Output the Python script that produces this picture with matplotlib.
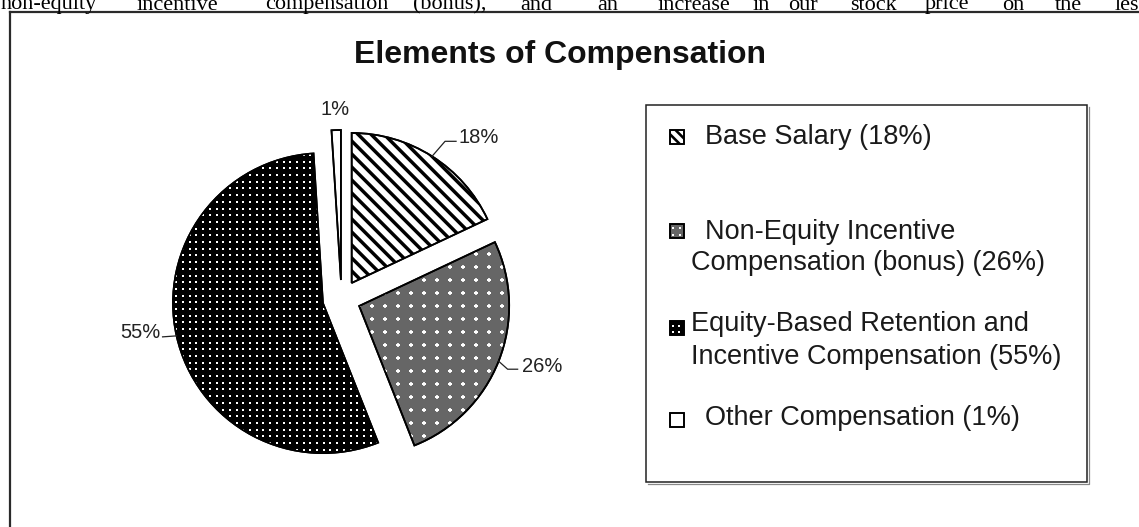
import numpy as np
import matplotlib.pyplot as plt
from matplotlib.patches import Rectangle, Wedge

# Page-scan recreation of the "Elements of Compensation" pie chart

W, H = 1139, 527

# --- data ---
categories = ["Base Salary", "Non-Equity Incentive Compensation (bonus)",
              "Equity-Based Retention and Incentive Compensation", "Other Compensation"]
shares = [18, 26, 55, 1]
pct_labels = ["18%", "26%", "55%", "1%"]
legend_lines = [["Base Salary (18%)"],
                ["Non-Equity Incentive", "Compensation (bonus) (26%)"],
                ["Equity-Based Retention and", "Incentive Compensation (55%)"],
                ["Other Compensation (1%)"]]
TITLE = "Elements of Compensation"
page_words = ["non-equity", "incentive", "compensation", "(bonus),", "and", "an",
              "increase", "in", "our", "stock", "price", "on", "the", "les"]

# --- layout (pixels, y measured from top) ---
word_x = [0, 137, 265, 413, 520, 597, 658, 753, 788, 850, 925, 1002, 1055, 1115]
PIE_CX, PIE_CY, PIE_R, EXPLODE = 341.5, 299, 150, 19
styles = ["stripes", "cross", "dots", "plain"]
faces = ["white", "#666666", "black", "white"]
# (elbow, end, text anchor, ha) relative to arc mid point, y up
label_layout = [((13, 15), (24, 15), (26, 13), "left"),
                ((9, -8), (19, -8), (23, -11), "left"),
                ((-14, -1), (-14, -1), (-16, -2), "right"),
                (None, None, (-1, 15), "center")]
marker_y = [137, 231, 328, 420]
marker_scale = [0.75, 0.5, 0.9, 1.0]
line_y = [[137], [232, 263], [324, 357], [418]]
line_x = [[705], [705, 691], [691, 691], [705]]

SANS = ["Liberation Sans", "DejaVu Sans"]


def Y(y):
    return H - y


def texture(ax, clip, kind, x0, x1, y0, y1, scale=1.0):
    if kind == "stripes":
        step = 13 * scale
        span = y1 - y0
        for c in np.arange(x0 - span, x1 + span, step):
            ln, = ax.plot([c, c + span], [y1, y0], color="black", lw=2.5 * scale,
                          solid_capstyle="butt", zorder=3)
            ln.set_clip_path(clip)
    elif kind in ("dots", "cross"):
        step = 6.7 if kind == "dots" else 13
        step *= scale
        gx, gy = np.meshgrid(np.arange(x0 + step / 2, x1, step),
                             np.arange(y0 + step / 2, y1, step))
        if kind == "dots":
            sc = ax.scatter(gx.ravel(), gy.ravel(), s=1.4, marker="s", c="white",
                            linewidths=0, zorder=3)
        else:
            sc = ax.scatter(gx.ravel(), gy.ravel(), s=9 * scale, marker="+",
                            c="white", linewidths=1.2, zorder=3)
        sc.set_clip_path(clip)


fig = plt.figure(figsize=(W / 100, H / 100), dpi=100)
ax = fig.add_axes([0, 0, 1, 1])

wedges, _ = ax.pie(shares, startangle=90, counterclock=False, radius=PIE_R,
                   center=(PIE_CX, Y(PIE_CY)), explode=[EXPLODE] * len(shares),
                   colors=faces, wedgeprops=dict(edgecolor="black", linewidth=1.2))
ax.set_xlim(0, W)
ax.set_ylim(0, H)
ax.axis("off")

for w, kind in zip(wedges, styles):
    cx, cy = w.center
    texture(ax, w, kind, cx - w.r, cx + w.r, cy - w.r, cy + w.r)
    ax.add_patch(Wedge(w.center, w.r, w.theta1, w.theta2, fill=False,
                       edgecolor="black", linewidth=1.3, zorder=4))

# percentage labels with leader lines
for w, txt, (elbow, end, anchor, ha) in zip(wedges, pct_labels, label_layout):
    th = np.deg2rad((w.theta1 + w.theta2) / 2)
    px = w.center[0] + w.r * np.cos(th)
    py = w.center[1] + w.r * np.sin(th)
    if elbow is not None:
        ax.plot([px, px + elbow[0], px + end[0]], [py, py + elbow[1], py + end[1]],
                color="#222222", lw=0.9, zorder=4)
    ax.text(px + anchor[0], py + anchor[1], txt, ha=ha, va="baseline",
            fontsize=14.5, family=SANS, color="#222222")

ax.text(560, Y(63), TITLE, ha="center", va="baseline", fontsize=23,
        fontweight="bold", family=SANS, color="#111111")

# legend box
ax.add_patch(Rectangle((646, Y(482)), 441, 377, fill=False, edgecolor="#222222",
                       linewidth=1.1, zorder=4))
ax.plot([648, 1089, 1089], [Y(484), Y(484), Y(107)], color="#888888", lw=0.9)

for kind, face, my, sc_, lines, ys, xs in zip(styles, faces, marker_y, marker_scale,
                                              legend_lines, line_y, line_x):
    sq = Rectangle((670, Y(my) - 7), 14, 14, facecolor=face, edgecolor="black",
                   linewidth=1.2, zorder=2)
    ax.add_patch(sq)
    texture(ax, sq, kind, 670, 684, Y(my) - 7, Y(my) + 7, scale=sc_)
    ax.add_patch(Rectangle((670, Y(my) - 7), 14, 14, fill=False,
                           edgecolor="black", linewidth=1.2, zorder=4))
    for ln, ly, lx in zip(lines, ys, xs):
        ax.text(lx, Y(ly), ln, ha="left", va="center", fontsize=19.5,
                family=SANS, color="#1a1a1a")

# page frame and the text line above it
ax.plot([10, W], [Y(12), Y(12)], color="#2a2a2a", lw=1.6)
ax.plot([10, 10], [Y(12), 0], color="#2a2a2a", lw=1.6)
for word, x in zip(page_words, word_x):
    ax.text(x, Y(9.5), word, ha="left", va="baseline", fontsize=16,
            family=["Liberation Serif", "DejaVu Serif"], color="black")

fig.savefig("out.png", dpi=100)
